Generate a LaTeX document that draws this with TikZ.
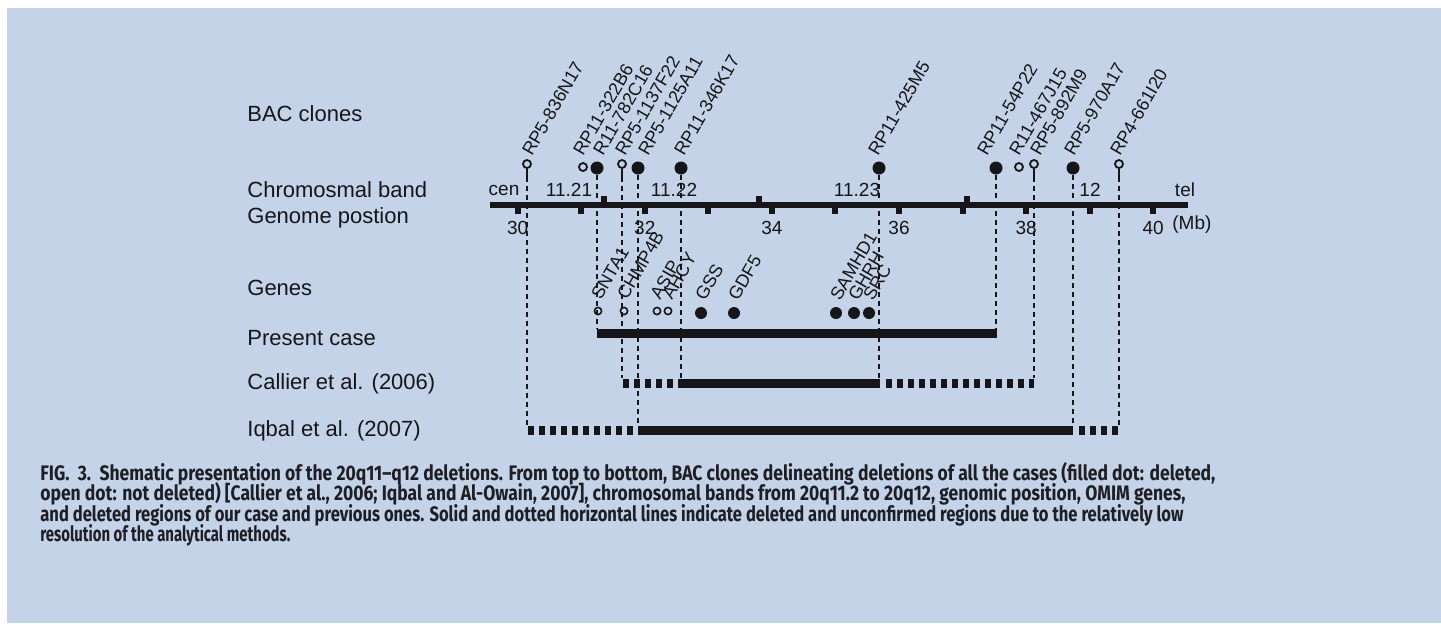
\documentclass[tikz,border=0pt]{standalone}
\usepackage{fontspec}
\setmainfont{Liberation Sans}
\newfontfamily\capfont[Ligatures=TeX]{Fira Sans}
\usepackage{graphicx}
\definecolor{bgblue}{RGB}{196,211,231}
\definecolor{txt}{RGB}{22,22,26}
\definecolor{captxt}{RGB}{30,30,38}
\begin{document}
\begin{tikzpicture}[x=0.5pt,y=-0.5pt,
  lab/.style={font=\fontsize{11}{13}\selectfont, anchor=west, text=txt, inner sep=0},
  blab/.style={font=\fontsize{9.5}{11}\selectfont, text=txt, inner sep=0},
  clab/.style={font=\fontsize{9}{11}\selectfont, rotate=60, anchor=base west, inner sep=0, text=txt},
  fdot/.style={circle, fill=txt, inner sep=0, minimum size=6.5pt},
  odot/.style={circle, draw=txt, line width=0.9pt, inner sep=0, minimum size=4pt},
  gfdot/.style={circle, fill=txt, inner sep=0, minimum size=6pt},
  godot/.style={circle, draw=txt, line width=0.8pt, inner sep=0, minimum size=3.6pt},
  stem/.style={draw=txt, line width=1pt},
  vdash/.style={draw=txt, line width=1pt, dash pattern=on 2.5pt off 2pt},
  solidbar/.style={draw=txt, line width=4.5pt},
  dotbar/.style={draw=txt, line width=4.5pt, dash pattern=on 3pt off 2.5pt},
  capline/.style={anchor=base west, inner sep=0, text=captxt, font=\capfont\bfseries\fontsize{10.5}{12}\selectfont}]
\useasboundingbox (0,0) rectangle (1441,623);
\fill[bgblue] (7,8) rectangle (1441,623);

% row labels
\node[lab] (lbac) at (247,114) {BAC clones};
\node[lab] (lband) at (247,190) {Chromosmal band};
\node[lab] (lgen) at (247,218) {Genome postion};
\node[lab] (lgenes) at (247,288) {Genes};
\node[lab] (lpres) at (247,338) {Present case};
\node[lab] (lcal) at (247,384) {Callier et al. (2006)};
\node[lab] (liq) at (247,431) {Iqbal et al. (2007)};

% axis
\coordinate (axL) at (490,205);
\coordinate (axR) at (1188,205);
\draw[txt, line width=3pt] (axL) -- (axR);
\foreach \i in {0,...,10} {
  \pgfmathsetmacro{\tx}{517.7+63.55*\i}
  \fill[txt] (\tx-3,205) rectangle (\tx+3,214);
}
\foreach \tx in {604,759,967} {
  \fill[txt] (\tx-3,196) rectangle (\tx+3,205);
}
\foreach \i/\v in {0/30,2/32,4/34,6/36,8/38,10/40} {
  \pgfmathsetmacro{\tx}{517.7+63.55*\i}
  \node[blab] (n\v) at (\tx,228) {\v};
}
\node[blab, anchor=west] (mb) at (1172,225) {(Mb)};
\node[blab] (bcen) at (504,190) {cen};
\node[blab] (b1121) at (569,190) {11.21};
\node[blab] (b1122) at (674,190) {11.22};
\node[blab] (b1123) at (857,190) {11.23};
\node[blab] (b12) at (1090,190) {12};
\node[blab] (btel) at (1185,190) {tel};

% row coordinates
\coordinate (presL) at (597,333);
\coordinate (presR) at (997,333);
\coordinate (calA) at (623,383);
\coordinate (calB) at (682,383);
\coordinate (calC) at (880,383);
\coordinate (calD) at (1034,383);
\coordinate (iqA) at (528,430);
\coordinate (iqB) at (639,430);
\coordinate (iqC) at (1073,430);
\coordinate (iqD) at (1120,430);
\coordinate (ptop) at (0,328);
\coordinate (ctop) at (0,378);
\coordinate (itop) at (0,425);

% bars
\draw[solidbar] (presL) -- (presR);
\draw[dotbar] (calA) -- (calB);
\draw[solidbar] (calB) -- (calC);
\draw[dotbar] ([xshift=3pt]calC) -- (calD);
\draw[dotbar] (iqA) -- (iqB);
\draw[solidbar] (iqB) -- (iqC);
\draw[dotbar] ([xshift=3pt]iqC) -- (iqD);

% BAC clones
\node[odot] (c1) at (527,164) {};
\node[odot] (c2) at (583,167) {};
\node[fdot] (c3) at (597,168) {};
\node[odot] (c4) at (622,164) {};
\node[fdot] (c5) at (638,168) {};
\node[fdot] (c6) at (681,168) {};
\node[fdot] (c7) at (879,168) {};
\node[fdot] (c8) at (996,168) {};
\node[odot] (c9) at (1019,167) {};
\node[odot] (c10) at (1034,164) {};
\node[fdot] (c11) at (1073,168) {};
\node[odot] (c12) at (1119,164) {};

\node[clab] (t1) at (532,157) {RP5-836N17};
\node[clab] (t2) at (583,157) {RP11-322B6};
\node[clab] (t3) at (603,157) {R11-782C16};
\node[clab] (t4) at (625,157) {RP5-1137F22};
\node[clab] (t5) at (648,157) {RP5-1125A11};
\node[clab] (t6) at (684,157) {RP11-346K17};
\node[clab] (t7) at (878,157) {RP11-425M5};
\node[clab] (t8) at (987,157) {RP11-54P22};
\node[clab] (t9) at (1019,157) {R11-467J15};
\node[clab] (t10) at (1040,157) {RP5-892M9};
\node[clab] (t11) at (1074,157) {RP5-970A17};
\node[clab] (t12) at (1120,157) {RP4-661I20};

% stems
\foreach \c in {c1,c4,c10,c12} {
  \draw[stem] (\c.south) -- ++(0,8) coordinate (\c s);
}
% dashed guide lines
\draw[vdash] (c1s) -- (c1s |- itop);
\draw[vdash] (c3.south) -- (c3.south |- ptop);
\draw[vdash] (c4s) -- (c4s |- ctop);
\draw[vdash] (c5.south) -- (c5.south |- itop);
\draw[vdash] (c6.south) -- (c6.south |- ctop);
\draw[vdash] (c7.south) -- (c7.south |- ctop);
\draw[vdash] (c8.south) -- (c8.south |- ptop);
\draw[vdash] (c10s) -- (c10s |- ctop);
\draw[vdash] (c11.south) -- (c11.south |- itop);
\draw[vdash] (c12s) -- (c12s |- itop);

% genes
\node[godot] (g1) at (598,311) {};
\node[godot] (g2) at (624,311) {};
\node[godot] (g3) at (657,311) {};
\node[godot] (g4) at (668,311) {};
\node[gfdot] (g5) at (701,313) {};
\node[gfdot] (g6) at (734,313) {};
\node[gfdot] (g7) at (836,313) {};
\node[gfdot] (g8) at (854,313) {};
\node[gfdot] (g9) at (869,313) {};
\node[clab] (s1) at (601,301) {SNTA1};
\node[clab] (s2) at (627,301) {CHMP4B};
\node[clab] (s3) at (660,301) {ASIP};
\node[clab] (s4) at (672,301) {AHCY};
\node[clab] (s5) at (705,302) {GSS};
\node[clab] (s6) at (738,302) {GDF5};
\node[clab] (s7) at (840,302) {SAMHD1};
\node[clab] (s8) at (858,302) {GHRH};
\node[clab] (s9) at (873,302) {SRC};

% caption
\node[capline] (cap1) at (40,480) {\resizebox{587.5pt}{\height}{FIG.\ \ 3.\ \ Shematic presentation of the 20q11–q12 deletions. From top to bottom, BAC clones delineating deletions of all the cases (filled dot: deleted,}};
\node[capline] (cap2) at (40,500) {\resizebox{572.5pt}{\height}{open dot: not deleted) [Callier et al., 2006; Iqbal and Al-Owain, 2007], chromosomal bands from 20q11.2 to 20q12, genomic position, OMIM genes,}};
\node[capline] (cap3) at (40,521) {\resizebox{571.5pt}{\height}{and deleted regions of our case and previous ones. Solid and dotted horizontal lines indicate deleted and unconfirmed regions due to the relatively low}};
\node[capline] (cap4) at (40,541) {\resizebox{125pt}{\height}{resolution of the analytical methods.}};
\end{tikzpicture}
\end{document}
